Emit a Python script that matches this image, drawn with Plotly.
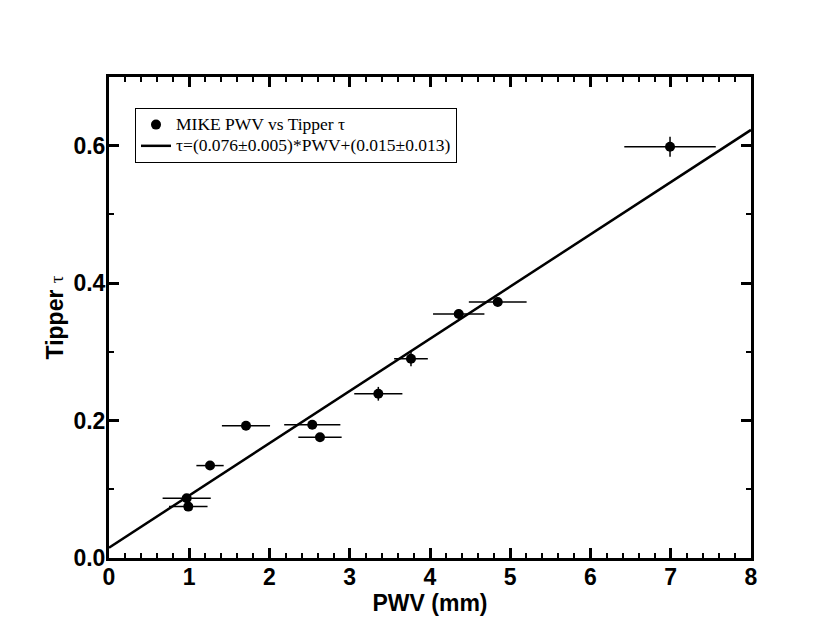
import plotly.graph_objects as go

pwv = [0.968, 0.988, 1.259, 1.707, 2.533, 2.629, 3.356, 3.763, 4.358, 4.844, 6.991]
pwv_err = [0.30, 0.24, 0.17, 0.30, 0.35, 0.27, 0.30, 0.21, 0.32, 0.36, 0.57]
tau = [0.0869, 0.0748, 0.1345, 0.1924, 0.1939, 0.1758, 0.239, 0.290, 0.355, 0.3726, 0.5985]
tau_err = [0.005, 0.005, 0.005, 0.005, 0.005, 0.005, 0.010, 0.011, 0.007, 0.006, 0.0146]

slope = 0.076
intercept = 0.015
fit_x = [0, 8]
fit_y = [slope * v + intercept for v in fit_x]

LEG = "<span style='font-size:17.5px'>%s</span>"

fig = go.Figure()
fig.add_trace(go.Scatter(
    x=pwv, y=tau, mode="markers",
    name=LEG % "MIKE PWV vs Tipper τ",
    marker=dict(color="black", size=10, symbol="circle"),
    error_x=dict(type="data", array=pwv_err, color="black", thickness=1.5, width=0),
    error_y=dict(type="data", array=tau_err, color="black", thickness=1.5, width=0),
))
fig.add_trace(go.Scatter(
    x=fit_x, y=fit_y, mode="lines",
    name=LEG % "τ=(0.076±0.005)*PWV+(0.015±0.013)",
    line=dict(color="black", width=2.5),
))
# invisible copy on mirrored axes so the top/right axes (with minor ticks) are drawn
fig.add_trace(go.Scatter(
    x=fit_x, y=fit_y, mode="lines", xaxis="x2", yaxis="y2",
    line=dict(color="rgba(0,0,0,0)", width=0), showlegend=False, hoverinfo="skip",
))

tickfont = dict(family="Liberation Sans, Arial", size=23, color="black", weight="bold")
axis_common = dict(
    showline=True, linecolor="black", linewidth=3,
    ticks="inside", ticklen=10, tickwidth=3, tickcolor="black",
    showgrid=False, zeroline=False, automargin=False,
)
xminor = dict(ticks="inside", ticklen=5, tickwidth=2, tickcolor="black", dtick=0.2, showgrid=False)
yminor = dict(ticks="inside", ticklen=5, tickwidth=2, tickcolor="black", dtick=0.1, showgrid=False)

fig.update_layout(
    width=830, height=642,
    margin=dict(l=101, r=87, t=69, b=92),
    plot_bgcolor="white", paper_bgcolor="white",
    showlegend=True,
    legend=dict(
        x=0.0405, y=0.9355, xanchor="left", yanchor="top",
        bordercolor="black", borderwidth=1, bgcolor="white",
        font=dict(family="Liberation Serif, Times New Roman", size=14, color="black"),
        tracegroupgap=0, itemwidth=30,
    ),
    xaxis=dict(
        range=[0, 8], dtick=1, tick0=0, tickfont=tickfont, ticklabelstandoff=-4,
        minor=xminor,
        title=dict(text="<b>PWV (mm)</b>", font=dict(family="Liberation Sans, Arial", size=23, color="black"), standoff=0),
        **axis_common,
    ),
    yaxis=dict(
        range=[0, 0.7], dtick=0.2, tick0=0, tickformat=".1f", tickfont=tickfont, ticklabelstandoff=-4,
        minor=yminor,
        title=dict(text="<b>Tipper</b> <span style='font-family:Liberation Serif;font-size:19px'>τ</span>",
                   font=dict(family="Liberation Sans, Arial", size=23, color="black"), standoff=4),
        **axis_common,
    ),
    xaxis2=dict(
        overlaying="x", side="top", range=[0, 8], dtick=1, tick0=0, showticklabels=False,
        minor=xminor, **axis_common,
    ),
    yaxis2=dict(
        overlaying="y", side="right", range=[0, 0.7], dtick=0.2, tick0=0, showticklabels=False,
        minor=yminor, **axis_common,
    ),
)

fig.write_html("out.html")
